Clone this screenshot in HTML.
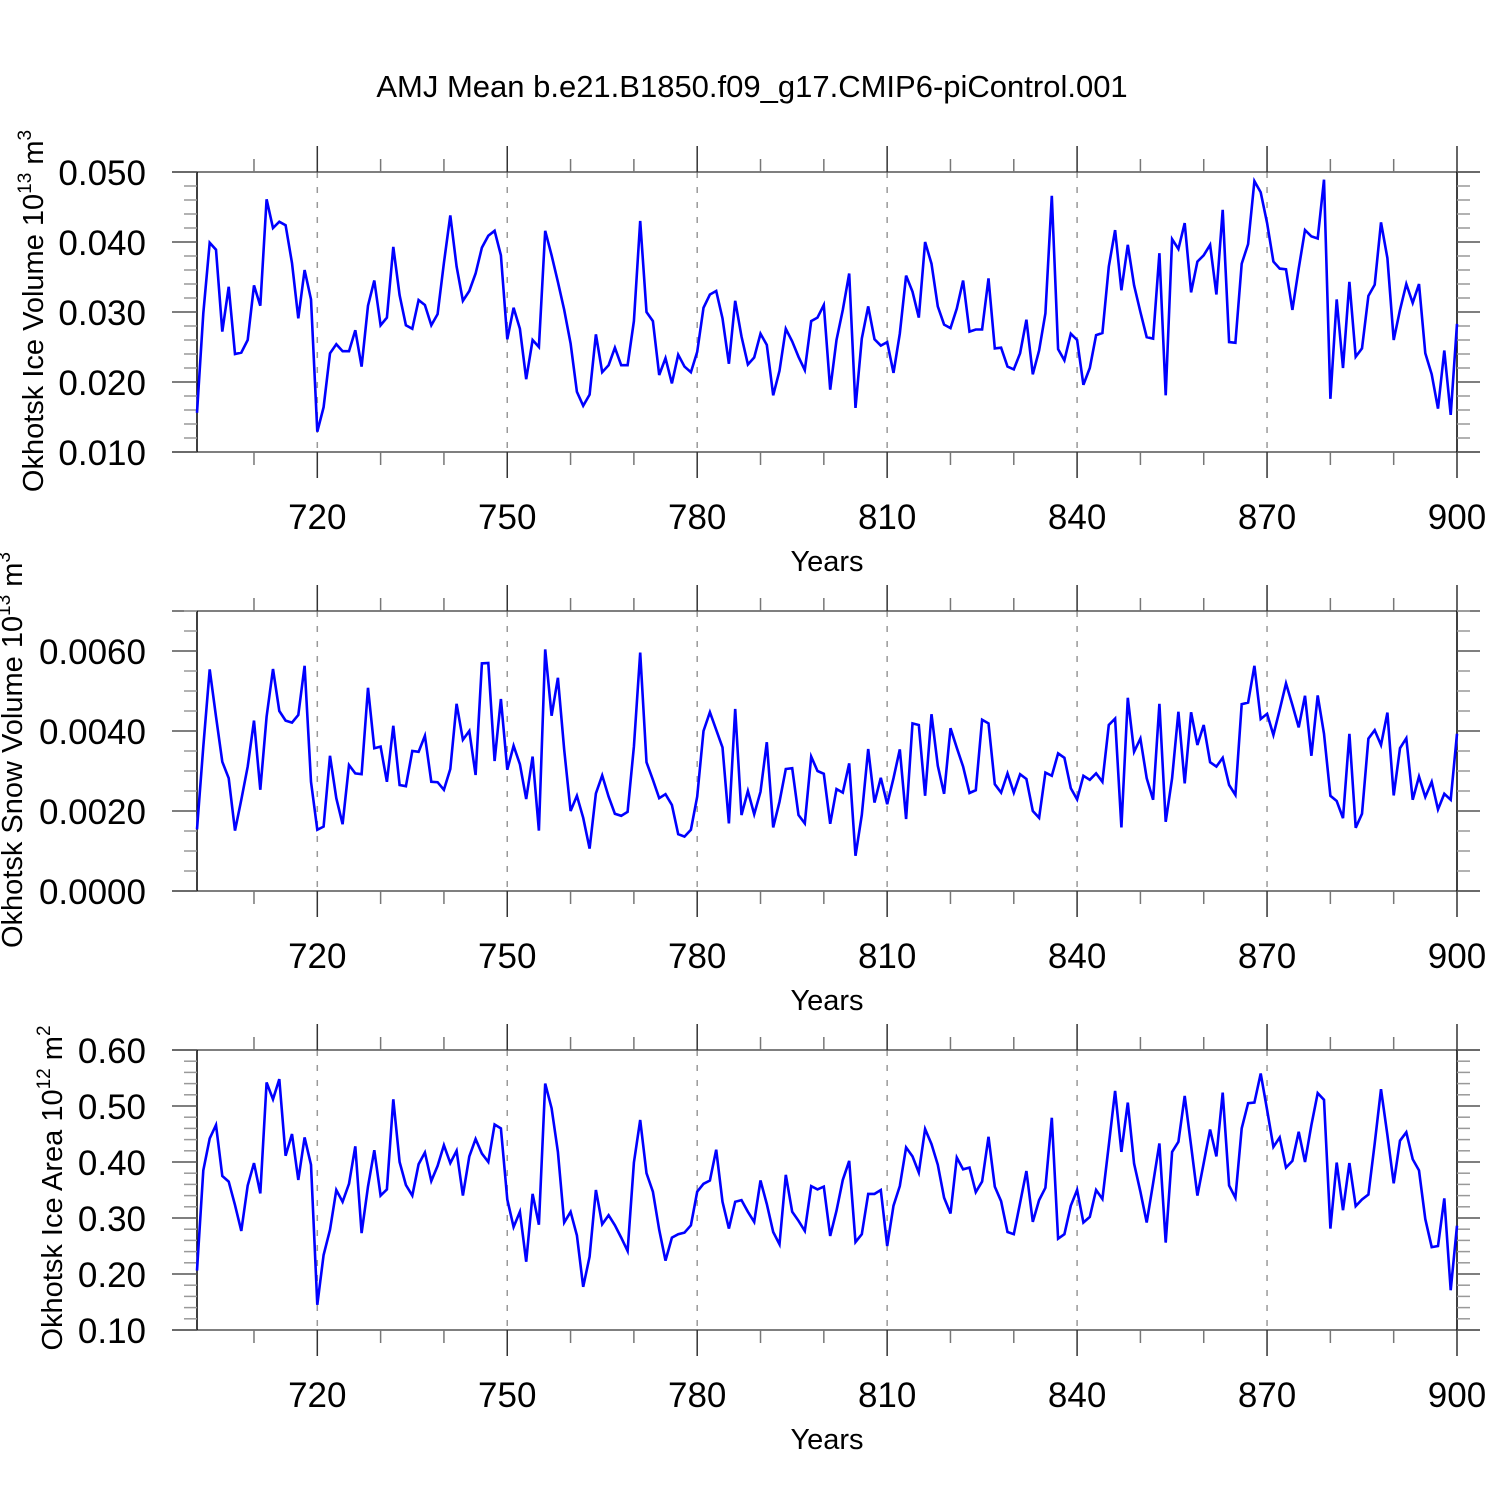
<!DOCTYPE html>
<html><head><meta charset="utf-8"><style>
html,body{margin:0;padding:0;background:#fff;}
svg{display:block;font-family:"Liberation Sans",Arial,sans-serif;}
</style></head>
<body>
<svg id="chart" width="1500" height="1500" viewBox="0 0 1500 1500" xmlns="http://www.w3.org/2000/svg">
<rect x="0" y="0" width="1500" height="1500" fill="#fff"/>
<text x="752" y="97" font-size="31" text-anchor="middle">AMJ Mean b.e21.B1850.f09_g17.CMIP6-piControl.001</text>
</svg>
<script>
const startYear = 701;
const xTicks = [720, 750, 780, 810, 840, 870, 900];
const iceVolume = [0.0156,0.0298,0.0399,0.0389,0.0272,0.0336,0.024,0.0242,0.026,0.0338,0.0309,0.0461,0.042,0.0429,0.0424,0.037,0.0291,0.036,0.0318,0.0129,0.0164,0.0241,0.0254,0.0244,0.0244,0.0274,0.0222,0.0309,0.0345,0.0281,0.0292,0.0393,0.0324,0.0281,0.0276,0.0317,0.031,0.0281,0.0297,0.037,0.0438,0.0365,0.0316,0.033,0.0355,0.0392,0.0409,0.0416,0.0381,0.0261,0.0306,0.0276,0.0204,0.026,0.025,0.0416,0.0381,0.0343,0.0303,0.0255,0.0186,0.0166,0.0182,0.0268,0.0214,0.0224,0.0249,0.0224,0.0224,0.0287,0.043,0.03,0.0287,0.021,0.0234,0.0198,0.0239,0.0222,0.0214,0.0243,0.0306,0.0325,0.033,0.0291,0.0226,0.0316,0.0265,0.0225,0.0235,0.0269,0.0253,0.0181,0.0216,0.0276,0.0258,0.0236,0.0217,0.0287,0.0292,0.031,0.0189,0.026,0.0303,0.0355,0.0163,0.0262,0.0308,0.0261,0.0252,0.0257,0.0213,0.0269,0.0352,0.0329,0.0292,0.04,0.0369,0.0308,0.0282,0.0277,0.0305,0.0345,0.0272,0.0275,0.0275,0.0348,0.0248,0.0249,0.0222,0.0218,0.0241,0.0289,0.0211,0.0245,0.0298,0.0466,0.0247,0.0231,0.0269,0.026,0.0196,0.022,0.0267,0.027,0.0365,0.0417,0.0331,0.0396,0.0338,0.03,0.0264,0.0262,0.0384,0.0181,0.0404,0.039,0.0427,0.0328,0.0372,0.0381,0.0396,0.0325,0.0446,0.0257,0.0256,0.0369,0.0397,0.0487,0.0471,0.0427,0.0372,0.0362,0.0361,0.0303,0.0362,0.0417,0.0408,0.0405,0.0489,0.0176,0.0318,0.022,0.0343,0.0236,0.0248,0.0323,0.0339,0.0428,0.0377,0.026,0.0303,0.034,0.0313,0.034,0.0241,0.0211,0.0162,0.0245,0.0153,0.0283];
const snowVolume = [1.54,3.61,5.54,4.36,3.23,2.82,1.51,2.28,3.11,4.26,2.53,4.36,5.55,4.5,4.26,4.21,4.4,5.63,2.73,1.53,1.61,3.38,2.32,1.67,3.15,2.94,2.92,5.08,3.57,3.61,2.73,4.13,2.65,2.62,3.5,3.48,3.88,2.73,2.72,2.53,3.05,4.68,3.78,4.0,2.9,5.69,5.7,3.25,4.8,3.03,3.63,3.17,2.3,3.36,1.51,6.04,4.38,5.33,3.53,2.0,2.38,1.83,1.06,2.44,2.89,2.36,1.93,1.88,1.98,3.61,5.96,3.22,2.78,2.32,2.42,2.15,1.42,1.36,1.53,2.36,4.0,4.47,4.03,3.59,1.69,4.55,1.9,2.5,1.92,2.48,3.72,1.59,2.23,3.05,3.07,1.9,1.69,3.36,3.0,2.93,1.68,2.55,2.46,3.19,0.88,1.9,3.55,2.21,2.83,2.17,2.82,3.54,1.8,4.19,4.15,2.38,4.42,3.13,2.43,4.07,3.58,3.11,2.45,2.52,4.28,4.19,2.67,2.46,2.94,2.46,2.92,2.8,2.0,1.83,2.96,2.88,3.44,3.33,2.57,2.29,2.88,2.78,2.94,2.73,4.15,4.31,1.59,4.83,3.48,3.81,2.82,2.28,4.68,1.73,2.82,4.48,2.69,4.47,3.65,4.15,3.22,3.11,3.33,2.65,2.4,4.67,4.71,5.63,4.3,4.43,3.9,4.53,5.19,4.65,4.09,4.88,3.38,4.89,3.93,2.38,2.25,1.82,3.93,1.58,1.93,3.81,4.02,3.65,4.46,2.39,3.57,3.82,2.28,2.86,2.35,2.73,2.04,2.43,2.28,3.93].map(v => v / 1000);
const iceArea = [0.206,0.385,0.442,0.466,0.375,0.365,0.323,0.277,0.358,0.398,0.344,0.542,0.512,0.548,0.411,0.45,0.368,0.444,0.395,0.145,0.234,0.279,0.35,0.329,0.361,0.428,0.273,0.356,0.421,0.34,0.351,0.512,0.4,0.359,0.34,0.396,0.417,0.366,0.393,0.43,0.398,0.42,0.34,0.41,0.441,0.415,0.4,0.467,0.46,0.333,0.284,0.311,0.222,0.343,0.288,0.54,0.496,0.418,0.292,0.311,0.269,0.177,0.231,0.35,0.289,0.305,0.287,0.265,0.241,0.399,0.475,0.38,0.347,0.279,0.224,0.265,0.271,0.274,0.287,0.347,0.361,0.367,0.422,0.329,0.281,0.329,0.332,0.311,0.293,0.367,0.325,0.275,0.253,0.377,0.311,0.295,0.277,0.357,0.351,0.356,0.268,0.313,0.368,0.402,0.257,0.271,0.343,0.343,0.35,0.25,0.322,0.357,0.426,0.41,0.381,0.459,0.432,0.395,0.336,0.308,0.408,0.387,0.39,0.346,0.365,0.445,0.356,0.33,0.275,0.271,0.327,0.384,0.293,0.332,0.354,0.479,0.263,0.271,0.322,0.35,0.292,0.302,0.35,0.334,0.43,0.527,0.418,0.506,0.397,0.347,0.292,0.362,0.433,0.256,0.418,0.436,0.518,0.429,0.34,0.398,0.458,0.41,0.524,0.358,0.336,0.46,0.505,0.506,0.558,0.493,0.427,0.444,0.39,0.402,0.454,0.4,0.466,0.523,0.511,0.281,0.399,0.314,0.398,0.321,0.333,0.342,0.433,0.53,0.448,0.362,0.438,0.453,0.405,0.385,0.298,0.248,0.25,0.335,0.171,0.286];
const iceVolTicks = [0.010, 0.020, 0.030, 0.040, 0.050];
const iceVolLabels = ["0.010","0.020","0.030","0.040","0.050"];
const snowTicks = [0, 0.002, 0.004, 0.006];
const snowLabels = ["0.0000","0.0020","0.0040","0.0060"];
const areaTicks = [0.1,0.2,0.3,0.4,0.5,0.6];
const areaLabels = ["0.10","0.20","0.30","0.40","0.50","0.60"];

const NS = "http://www.w3.org/2000/svg";
const svg = document.getElementById('chart');
function mk(tag, attrs, parent) {
  const e = document.createElementNS(NS, tag);
  for (const k in attrs) e.setAttribute(k, attrs[k]);
  (parent || svg).appendChild(e);
  return e;
}
const X0 = 197, X1 = 1457, Y0 = 701, Y1 = 900;
function xScale(yr) { return X0 + (yr - Y0) / (Y1 - Y0) * (X1 - X0); }

function panel(name, top, bottom, ymin, ymax, minorStep, ticks, labels, data, titleParts, titleX, titleY) {
  const g = mk('g', {});
  
  
  const ys = v => bottom - (v - ymin) / (ymax - ymin) * (bottom - top);
  xTicks.forEach(t => {
    if (t >= 900) return;
    const gl = mk('line', {x1: xScale(t), x2: xScale(t), y1: top, y2: bottom, stroke: '#999', 'stroke-width': 1.5, 'stroke-dasharray': '6,9'}, g);
    
    
  });
  mk('line', {x1: 172, x2: 1480, y1: top, y2: top, stroke: '#555', 'stroke-width': 1.5}, g);
  mk('line', {x1: 172, x2: 1480, y1: bottom, y2: bottom, stroke: '#555', 'stroke-width': 1.5}, g);
  mk('line', {x1: X0, x2: X0, y1: top, y2: bottom, stroke: '#000', 'stroke-width': 1.5}, g);
  mk('line', {x1: X1, x2: X1, y1: top, y2: bottom, stroke: '#000', 'stroke-width': 1.5}, g);
  for (let yr = 710; yr <= 900; yr += 10) {
    const major = (yr - 720) % 30 === 0;
    const len = major ? 26 : 13;
    const x = xScale(yr);
    mk('line', {x1: x, x2: x, y1: top - len, y2: top, stroke: major ? '#333' : '#777', 'stroke-width': 1.5}, g);
    mk('line', {x1: x, x2: x, y1: bottom, y2: bottom + len, stroke: major ? '#333' : '#777', 'stroke-width': 1.5}, g);
  }
  xTicks.forEach(t => {
    const tl = mk('text', {x: xScale(t), y: bottom + 77, 'font-size': 35, 'text-anchor': 'middle'}, g);
    tl.textContent = t;
    
    
  });
  const xt = mk('text', {x: 827, y: bottom + 119, 'font-size': 29, 'text-anchor': 'middle'}, g);
  xt.textContent = 'Years';
  
  
  const n = Math.round((ymax - ymin) / minorStep);
  for (let i = 0; i <= n; i++) {
    const v = ymin + i * minorStep;
    const y = ys(v);
    const isMajor = ticks.some(t => Math.abs(t - v) < minorStep / 10);
    if (isMajor) {
      mk('line', {x1: 172, x2: X0, y1: y, y2: y, stroke: '#555', 'stroke-width': 1.5}, g);
      mk('line', {x1: X1, x2: 1480, y1: y, y2: y, stroke: '#555', 'stroke-width': 1.5}, g);
    } else {
      mk('line', {x1: 184, x2: X0, y1: y, y2: y, stroke: '#999', 'stroke-width': 1.5}, g);
      mk('line', {x1: X1, x2: 1470, y1: y, y2: y, stroke: '#999', 'stroke-width': 1.5}, g);
    }
  }
  ticks.forEach((t, i) => {
    const yl = mk('text', {x: 146, y: ys(t) + 13, 'font-size': 35, 'text-anchor': 'end'}, g);
    yl.textContent = labels[i];
    
    
  });
  const yt = mk('text', {x: titleX, y: titleY, 'font-size': 29, 'text-anchor': 'middle', transform: 'rotate(-90 ' + titleX + ' ' + titleY + ')'}, g);
  
  
  const t1 = mk('tspan', {}, yt); t1.textContent = titleParts[0];
  const t2 = mk('tspan', {dy: -12, 'font-size': 19}, yt); t2.textContent = titleParts[1];
  const t3 = mk('tspan', {dy: 12}, yt); t3.textContent = ' m';
  const t4 = mk('tspan', {dy: -12, 'font-size': 19}, yt); t4.textContent = titleParts[2];
  const pts = data.map((v, i) => xScale(startYear + i).toFixed(1) + ',' + ys(v).toFixed(1)).join(' ');
  const pl = mk('polyline', {points: pts, fill: 'none', stroke: '#0000ff', 'stroke-width': 2.6, 'stroke-linejoin': 'miter'}, g);
  
  
}
panel('ice-volume', 172, 452, 0.01, 0.05, 0.002, iceVolTicks, iceVolLabels, iceVolume, ['Okhotsk Ice Volume 10', '13', '3'], 43, 311);
panel('snow-volume', 611, 891, 0, 0.007, 0.0005, snowTicks, snowLabels, snowVolume, ['Okhotsk Snow Volume 10', '13', '3'], 22, 750);
panel('ice-area', 1050, 1330, 0.1, 0.6, 0.02, areaTicks, areaLabels, iceArea, ['Okhotsk Ice Area 10', '12', '2'], 62, 1188);
</script>
</body></html>
